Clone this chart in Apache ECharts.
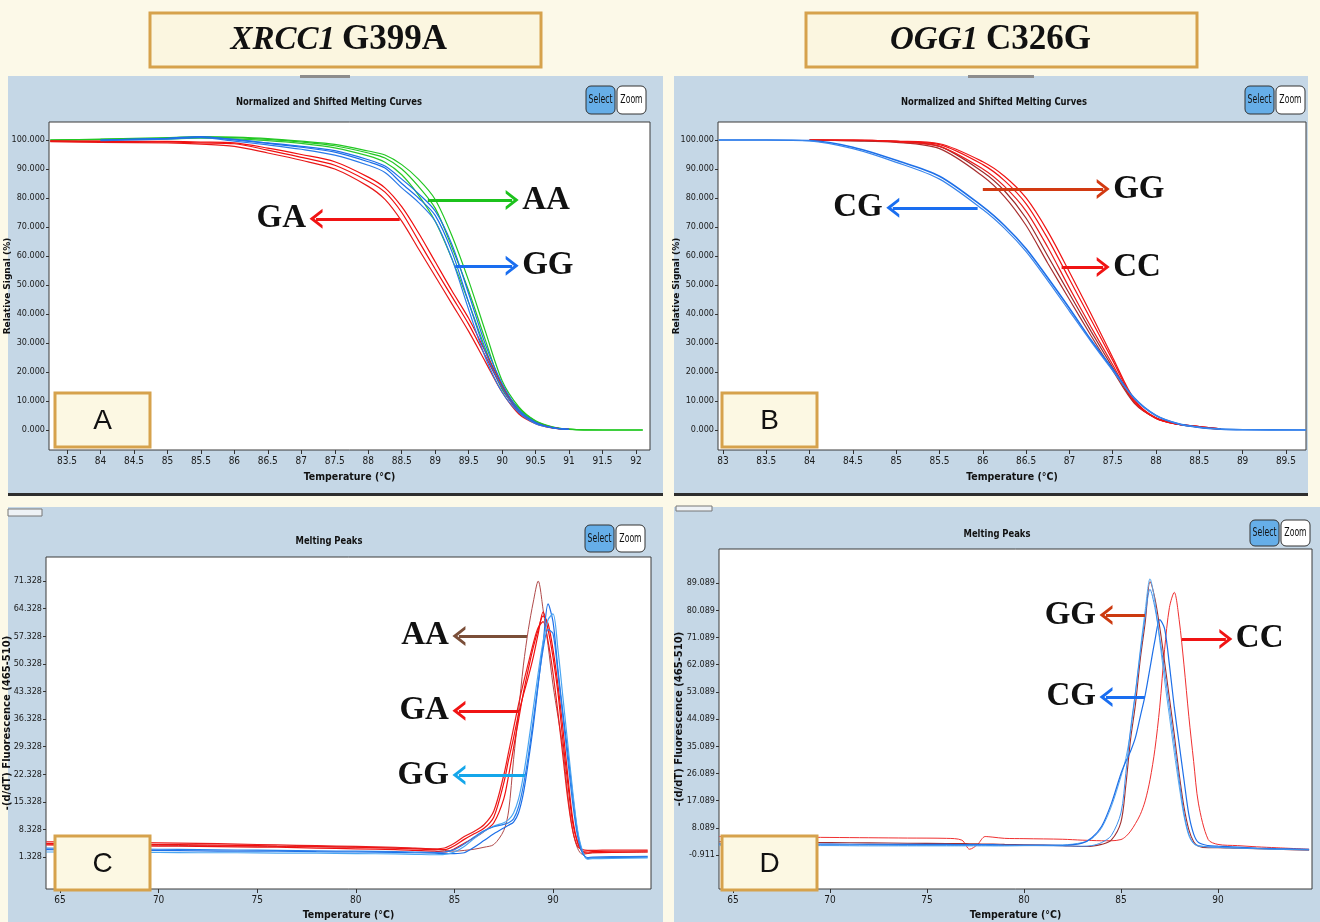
<!DOCTYPE html>
<html>
<head>
<meta charset="utf-8">
<script src="https://cdn.jsdelivr.net/npm/echarts@6/dist/echarts.min.js"></script>
<style>
html, body { margin: 0; padding: 0; background: #fcf9e8; }
#main { width: 1320px; height: 922px; }
</style>
</head>
<body>
<div id="main"></div>
<script>
// ---- A: XRCC1 G399A, normalized melting curves ----
var tempA = [83.25, 84, 85, 85.5, 86, 86.5, 87, 87.5, 88, 88.25, 88.5, 88.75, 89, 89.25, 89.5, 89.75, 90, 90.25, 90.5, 90.75, 91, 91.5, 92.1];
var aaA1 = [100, 100.2, 100.6, 101, 100.8, 100.2, 99.3, 98, 95.5, 93.8, 90, 84, 76.5, 63, 48, 31, 15, 7.5, 3, 1, 0.3, 0, 0];
var aaA2 = [99.9, 100.1, 100.4, 100.6, 100.4, 99.8, 98.8, 97.3, 94.5, 92.3, 88, 81, 72, 59, 44, 28, 14, 7, 2.8, 0.9, 0.2, 0, 0];
var aaA3 = [100, 100.3, 100.8, 101.2, 101, 100.5, 99.6, 98.5, 96.2, 94.8, 91.5, 86.5, 79.5, 67, 51.5, 34, 17, 8, 3.2, 1.1, 0.3, 0, 0];
var ggA1 = [null, 100, 100.6, 101.2, 100, 98.8, 97.5, 95.8, 92.5, 90.3, 85, 80, 74, 61.5, 44, 27, 14.5, 6.5, 2.5, 0.8, 0.2, null, null];
var ggA2 = [null, 99.8, 100.3, 100.8, 99.6, 98.3, 96.8, 94.8, 91.3, 88.8, 83.5, 78.5, 72, 59, 41.5, 25, 13, 6, 2.2, 0.7, 0.2, null, null];
var ggA3 = [null, 100, 100.5, 101, 100.2, 99, 97.8, 96.3, 93.2, 91, 86.5, 81.5, 75.5, 64, 47, 29.5, 16, 7, 2.7, 0.8, 0.2, null, null];
var gaA1 = [99.6, 99.5, 99.3, 99, 98.7, 96.5, 94, 91.3, 85.8, 82, 75, 65.3, 55.5, 46, 36.5, 25.5, 14.5, 6, 2.5, 0.8, 0.2, null, null];
var gaA2 = [99.4, 99.2, 99, 98.6, 97.8, 95.5, 93, 90, 84, 79.5, 72, 62.5, 53, 43.5, 34, 23.5, 13, 5.5, 2.2, 0.7, 0.2, null, null];
var gaA3 = [99.7, 99.6, 99.5, 99.3, 99, 97.2, 95, 92.5, 87.2, 83.5, 77, 68, 58, 48, 38.5, 27, 15.5, 6.5, 2.6, 0.8, 0.2, null, null];

// ---- B: OGG1 C326G, normalized melting curves ----
var tempB = [82.95, 83.5, 84, 84.5, 85, 85.5, 86, 86.25, 86.5, 86.75, 87, 87.25, 87.5, 87.75, 88, 88.25, 88.5, 88.75, 89, 89.73];
var cgB1 = [100, 100, 99.8, 97.5, 93, 87.5, 77, 70.5, 62.5, 52.5, 42, 31, 21, 11, 5, 2.2, 0.9, 0.3, 0.1, 0];
var cgB2 = [100, 100, 99.7, 97, 92.3, 86.5, 76, 69.5, 61.5, 51.5, 41, 30.5, 20.5, 10.8, 5, 2.2, 0.9, 0.3, 0.1, 0];
var ccB1 = [null, null, 100, 100, 99.5, 98.4, 91.5, 86, 78, 66, 52, 38, 24, 10, 4, 2, 1.2, 0.4, null, null];
var ccB2 = [null, null, 100, 99.9, 99.3, 97.8, 90, 84, 75.5, 63, 49, 35.5, 22.5, 9.5, 4, 2, 1.1, 0.4, null, null];
var ccB3 = [null, null, 100, 100, 99.6, 98.7, 92.5, 87.5, 80, 68.5, 54.5, 40, 25, 10.5, 4.1, 2, 1.2, 0.4, null, null];
var ggB1 = [null, null, 100, 99.8, 99.5, 97.8, 89, 82.5, 73, 60, 47, 34, 21.5, 9.5, 4.2, 2, 1, 0.3, null, null];
var ggB2 = [null, null, 100, 99.7, 99.2, 97, 87.5, 80.5, 70.5, 57.5, 45, 32.5, 20.5, 9.2, 4.1, 2, 1, 0.3, null, null];

// ---- C: XRCC1 melting peaks ----
var tempC = [64.3, 66, 68, 70, 72, 74, 76, 78, 80, 82, 83, 84, 84.5, 85, 85.5, 86, 86.5, 87, 87.5, 87.75, 88, 88.25, 88.5, 88.75, 89, 89.25, 89.5, 89.75, 90, 90.25, 90.5, 90.75, 91, 91.25, 91.5, 91.75, 92, 93, 94.8];
var aaC = [4.6, 4.5, 4.4, 4.3, 4.2, 4.1, 4.0, 3.9, 3.8, 3.6, 3.5, 3.3, 3.0, 2.8, 3.0, 3.3, 3.8, 4.5, 8, 13, 26, 38, 50, 59, 66, 71.3, 64, 55, 45, 37, 29, 17, 8, 3.5, 2, 2.2, 2.4, 2.5, 2.6];
var gaC1 = [4.8, 4.7, 4.6, 4.5, 4.4, 4.3, 4.1, 4.0, 3.8, 3.6, 3.4, 3.2, 3.2, 4.2, 5.8, 7.2, 8.6, 11.5, 20, 26, 31.5, 37.5, 42.5, 47, 52, 58, 63.5, 59, 52, 43, 31, 20, 10, 5, 2.8, 2.6, 2.7, 2.8, 2.9];
var gaC2 = [5.2, 5.1, 5.0, 4.9, 4.8, 4.6, 4.4, 4.2, 4.0, 3.8, 3.6, 3.4, 3.6, 4.8, 6.5, 7.8, 9.5, 13, 22, 28, 34, 40, 45.5, 50.5, 55.5, 59.5, 61, 56, 48, 38, 27, 16, 8, 4, 3.2, 3.0, 3.0, 3.1, 3.1];
var gaC3 = [4.4, 4.3, 4.2, 4.1, 4.0, 3.9, 3.8, 3.6, 3.4, 3.2, 3.0, 2.8, 2.6, 3.4, 4.8, 6.2, 7.8, 10, 16, 22, 29, 36, 43, 49, 54.5, 59, 62.5, 60.5, 54, 45, 34, 22, 11, 5, 2.6, 2.3, 2.4, 2.5, 2.6];
var ggC1 = [3.2, 3.1, 3.0, 3.0, 2.9, 2.8, 2.8, 2.7, 2.6, 2.5, 2.4, 2.3, 2.2, 2.2, 2.4, 3.8, 5.5, 7.2, 8.7, 9.4, 10.2, 12.5, 17.5, 25.5, 34.5, 45, 55.5, 65.5, 61, 49, 38, 28, 17, 7.5, 2.5, 1.0, 1.1, 1.2, 1.3];
var ggC2 = [2.6, 2.6, 2.5, 2.5, 2.4, 2.4, 2.3, 2.3, 2.2, 2.1, 2.0, 1.9, 2.0, 2.6, 4.0, 6.0, 7.8, 9.2, 10.0, 10.8, 12.5, 16, 22, 30, 39, 48, 56, 61.5, 63, 54, 42, 30, 18, 8, 2.8, 0.8, 0.9, 1.0, 1.1];
var ggC3 = [3.6, 3.5, 3.4, 3.3, 3.2, 3.1, 3.0, 2.9, 2.8, 2.7, 2.6, 2.5, 2.6, 3.2, 4.6, 6.4, 8.0, 9.0, 9.6, 10.0, 11, 14, 19.5, 27, 36, 45.5, 54, 59, 58, 48, 37, 26, 15, 6.5, 2.2, 1.2, 1.3, 1.4, 1.5];

// ---- D: OGG1 melting peaks ----
var tempD = [64.3, 66, 68, 70, 72, 74, 76, 76.8, 77.2, 77.6, 78, 78.4, 79, 80, 82, 83, 83.5, 84, 84.5, 85, 85.25, 85.5, 85.75, 86, 86.25, 86.5, 86.75, 87, 87.25, 87.5, 87.75, 88, 88.25, 88.5, 88.75, 89, 89.5, 90, 91, 92, 93, 94.7];
var ccD = [5.2, 5.1, 5.0, 4.9, 4.8, 4.7, 4.6, 4.0, 1.0, 2.5, 5.2, 5.0, 4.6, 4.5, 4.3, 4.0, 3.9, 3.8, 3.8, 4.2, 5.2, 7, 9.5, 12.5, 17, 24, 34, 48, 67, 81, 86, 77, 62, 45, 30, 16, 4.2, 2.6, 2.2, 1.8, 1.5, 1.0];
var ggD = [3.5, 3.4, 3.3, 3.2, 3.1, 3.0, 2.9, 2.9, 2.8, 2.8, 2.7, 2.7, 2.6, 2.5, 2.2, 1.9, 2.0, 2.6, 4, 10, 22, 37.5, 49, 64, 76, 89.5, 84, 74.5, 63, 51, 39, 26, 15, 7.5, 3.5, 2.0, 1.5, 1.5, 1.3, 1.2, 1.0, 0.7];
var cgD1 = [2.2, 2.2, 2.2, 2.2, 2.1, 2.1, 2.1, 2.1, 2.1, 2.1, 2.1, 2.1, 2.1, 2.2, 2.4, 3.2, 4.5, 8, 15, 25, 31, 40, 53, 67, 80, 90.5, 83, 70, 57, 45, 33, 22, 12, 5.5, 2.8, 2.0, 1.8, 1.6, 1.4, 1.2, 1.0, 0.8];
var cgD2 = [2.8, 2.8, 2.7, 2.7, 2.6, 2.6, 2.6, 2.5, 2.5, 2.5, 2.5, 2.5, 2.4, 2.4, 2.3, 3.0, 4.8, 8.5, 16, 26, 30, 33.5, 38, 45, 52, 61, 70, 77, 74, 62, 48, 36, 24, 12.5, 6, 3.2, 2.2, 2.0, 1.7, 1.4, 1.2, 1.0];
var cgD3 = [2.5, 2.5, 2.4, 2.4, 2.4, 2.3, 2.3, 2.3, 2.3, 2.3, 2.3, 2.2, 2.2, 2.2, 2.1, 2.0, 2.2, 3.2, 5.5, 13, 26, 41, 53, 66, 78, 87, 81, 71, 60, 48, 36, 24, 13, 6, 3, 2.2, 1.8, 1.6, 1.4, 1.2, 1.0, 0.8];

// tick labels
var xTicksA = [83.5, 84, 84.5, 85, 85.5, 86, 86.5, 87, 87.5, 88, 88.5, 89, 89.5, 90, 90.5, 91, 91.5, 92];
var xTicksB = [83, 83.5, 84, 84.5, 85, 85.5, 86, 86.5, 87, 87.5, 88, 88.5, 89, 89.5];
var xTicksCD = [65, 70, 75, 80, 85, 90];
var yTicksAB = [0, 10, 20, 30, 40, 50, 60, 70, 80, 90, 100];
var yTicksC = [1.328, 8.328, 15.328, 22.328, 29.328, 36.328, 43.328, 50.328, 57.328, 64.328, 71.328];
var yTicksD = [-0.911, 8.089, 17.089, 26.089, 35.089, 44.089, 53.089, 62.089, 71.089, 80.089, 89.089];

// genotype arrows: [from temp, to temp, level, label, colour]
var arrowsA = [[88.89, 90.15, 79.3, 'AA', '#1cc21c'], [88.47, 87.22, 72.8, 'GA', '#f01414'], [89.3, 90.15, 56.6, 'GG', '#1a6ef0']];
var arrowsB = [[86.0, 87.39, 83.1, 'GG', '#d23a12'], [85.94, 84.96, 76.6, 'CG', '#1a6ef0'], [86.91, 87.39, 56.2, 'CC', '#f01414']];
var arrowsC = [[88.68, 85.23, 57.4, 'AA', '#7a4e38'], [88.28, 85.23, 38.4, 'GA', '#f01414'], [88.58, 85.23, 22.1, 'GG', '#14a6ea']];
var arrowsD = [[86.24, 84.23, 78.5, 'GG', '#cc3a10'], [86.24, 84.23, 51.4, 'CG', '#1a6ef0'], [88.14, 90.41, 70.6, 'CC', '#f01414']];

var NARROW = "'Liberation Sans Narrow','Arial Narrow','DejaVu Sans Condensed',sans-serif";
var SERIF = "'Liberation Serif','Times New Roman',serif";
var CHEVRON = 'path://M10,0 L20,12 L16.5,12 L10,4.5 L3.5,12 L0,12 Z';
var TAN = '#d6a24c';

var series = [];
function addCurve(p, temps, vals, color, w) {
  var pts = [];
  for (var i = 0; i < temps.length; i++) {
    if (vals[i] !== null) pts.push([temps[i], vals[i]]);
  }
  var s = {
    type: 'line', xAxisIndex: p, yAxisIndex: p, data: pts, symbol: 'none',
    smooth: 0.3, silent: true, clip: true,
    lineStyle: { color: color, width: w || 1.2 }, itemStyle: { color: color }
  };
  series.push(s);
  return s;
}
function addArrows(s, arrows) {
  s.markLine = {
    silent: true, animation: false, symbol: ['none', 'none'],
    data: arrows.map(function (a) {
      return [
        { coord: [a[0], a[2]], name: a[3],
          lineStyle: { color: a[4], width: 3, type: 'solid' },
          label: { show: true, position: 'end', formatter: '{b}', distance: 10,
                   color: '#111', fontSize: 33, fontWeight: 'bold', fontFamily: SERIF } },
        { coord: [a[1], a[2]], symbol: CHEVRON, symbolSize: [20, 13] }
      ];
    })
  };
}

var sA = addCurve(0, tempA, aaA1, '#22c722');
addCurve(0, tempA, aaA2, '#2bc92b'); addCurve(0, tempA, aaA3, '#22c722');
addCurve(0, tempA, gaA1, '#f01010'); addCurve(0, tempA, gaA2, '#e81818'); addCurve(0, tempA, gaA3, '#f01010');
addCurve(0, tempA, ggA1, '#1d6fe8'); addCurve(0, tempA, ggA2, '#2a7ae8'); addCurve(0, tempA, ggA3, '#1d6fe8');
addArrows(sA, arrowsA);

var sB = addCurve(1, tempB, ggB1, '#9c2a2a');
addCurve(1, tempB, ggB2, '#a83030');
addCurve(1, tempB, ccB1, '#f01414'); addCurve(1, tempB, ccB2, '#e81c1c'); addCurve(1, tempB, ccB3, '#f01414');
addCurve(1, tempB, cgB1, '#1d6fe8', 1.6); addCurve(1, tempB, cgB2, '#3a86ec');
addArrows(sB, arrowsB);

var sC = addCurve(2, tempC, aaC, '#b04a4a', 1);
addCurve(2, tempC, gaC1, '#f01010'); addCurve(2, tempC, gaC2, '#ea1c1c'); addCurve(2, tempC, gaC3, '#f01010');
addCurve(2, tempC, ggC1, '#1d6fe8'); addCurve(2, tempC, ggC2, '#4aa6f2'); addCurve(2, tempC, ggC3, '#2a7ee8');
addArrows(sC, arrowsC);

var sD = addCurve(3, tempD, ccD, '#f03030', 1);
addCurve(3, tempD, ggD, '#a03030', 1.1);
addCurve(3, tempD, cgD1, '#5aaaf0', 1); addCurve(3, tempD, cgD2, '#1d6fe8', 1.2); addCurve(3, tempD, cgD3, '#3c90ee', 1);
addArrows(sD, arrowsD);

function fmtX(v) { return (Math.round(v * 10) / 10).toString(); }
function fmtY(v) { return v.toFixed(3); }

function xAxis(p, min, max, ticks, gap) {
  return {
    type: 'value', gridIndex: p, min: min, max: max, position: 'bottom',
    name: 'Temperature (°C)', nameLocation: 'middle', nameGap: gap, nameMoveOverlap: false,
    nameTextStyle: { fontFamily: NARROW, fontSize: 10.5, fontWeight: 'bold', color: '#111' },
    axisLine: { show: false, onZero: false },
    axisTick: { show: true, customValues: ticks, length: 4, lineStyle: { color: '#333' } },
    axisLabel: { customValues: ticks, formatter: fmtX, fontFamily: NARROW, fontSize: 10, color: '#1a1a1a', margin: 6 },
    splitLine: { show: false }
  };
}
function yAxis(p, min, max, ticks, name, gap, size) {
  return {
    type: 'value', gridIndex: p, min: min, max: max, position: 'left',
    name: name, nameLocation: 'middle', nameGap: gap, nameRotate: 90, nameMoveOverlap: false,
    nameTextStyle: { fontFamily: "'DejaVu Sans',sans-serif", fontSize: size, fontWeight: 'bold', color: '#111' },
    axisLine: { show: false, onZero: false },
    axisTick: { show: true, customValues: ticks, length: 3, lineStyle: { color: '#333' } },
    axisLabel: { customValues: ticks, formatter: fmtY, fontFamily: NARROW, fontSize: 9, color: '#1a1a1a', margin: 4 },
    splitLine: { show: false }
  };
}

// page decoration
var graphics = [];
function box(x, y, w, h, fill, stroke, lw, z, r) {
  graphics.push({ type: 'rect', silent: true, z: z, shape: { x: x, y: y, width: w, height: h, r: r || 0 },
    style: { fill: fill, stroke: stroke || null, lineWidth: lw || 0 } });
}
function label(x, y, str, font, color, align, z, sx) {
  graphics.push({ type: 'text', silent: true, z: z || 50, x: x, y: y, scaleX: sx || 1,
    style: { text: str, font: font, fill: color, align: align || 'center', verticalAlign: 'middle' } });
}
// panel backgrounds
box(8, 76, 655, 419, '#c5d7e6', null, 0, -10);
box(674, 76, 634, 419, '#c5d7e6', null, 0, -10);
box(8, 507, 655, 415, '#c5d7e6', null, 0, -10);
box(674, 507, 646, 415, '#c5d7e6', null, 0, -10);
box(8, 493, 655, 3, '#2e2e2e', null, 0, -9);
box(674, 493, 634, 3, '#2e2e2e', null, 0, -9);
box(300, 75, 50, 3, '#8d8d8d', null, 0, -9);
box(968, 75, 66, 3, '#8d8d8d', null, 0, -9);
box(8, 509, 34, 7, '#eef2f6', '#777', 1, -9);
box(676, 506, 36, 5, '#eef2f6', '#777', 1, -9);

// gene titles
box(150, 13, 391, 54, '#fbf6e0', TAN, 3, 20);
box(806, 13, 391, 54, '#fbf6e0', TAN, 3, 20);
label(335, 40, 'XRCC1', 'italic bold 33px ' + SERIF, '#111', 'right', 30);
label(342, 40, 'G399A', 'bold 35px ' + SERIF, '#111', 'left', 30);
label(978, 40, 'OGG1', 'italic bold 33px ' + SERIF, '#111', 'right', 30);
label(986, 40, 'C326G', 'bold 35px ' + SERIF, '#111', 'left', 30);

// panel titles
label(329, 102, 'Normalized and Shifted Melting Curves', 'bold 11px ' + NARROW, '#111', 'center', 50, 0.85);
label(994, 102, 'Normalized and Shifted Melting Curves', 'bold 11px ' + NARROW, '#111', 'center', 50, 0.85);
label(329, 541, 'Melting Peaks', 'bold 11px ' + NARROW, '#111', 'center', 50, 0.85);
label(997, 534, 'Melting Peaks', 'bold 11px ' + NARROW, '#111', 'center', 50, 0.85);

// Select / Zoom buttons
function buttons(x, y, h) {
  box(x, y, 29, h, '#66aee8', '#333', 1, 20, 5);
  box(x + 31, y, 29, h, '#ffffff', '#333', 1, 20, 5);
  label(x + 14.5, y + h / 2, 'Select', '13px ' + NARROW, '#111', 'center', 30, 0.66);
  label(x + 45.5, y + h / 2, 'Zoom', '13px ' + NARROW, '#111', 'center', 30, 0.66);
}
buttons(586, 86, 28);
buttons(1245, 86, 28);
buttons(585, 525, 27);
buttons(1250, 520, 26);

// panel letters
function letter(x, y, ch) {
  box(x, y, 95, 54, '#fcf8e3', TAN, 3, 100);
  label(x + 47.5, y + 28, ch, '28px ' + "'Liberation Sans',Arial,sans-serif", '#111', 'center', 110);
}
letter(55, 393, 'A');
letter(722, 393, 'B');
letter(55, 836, 'C');
letter(722, 836, 'D');

var gridStyle = { show: true, backgroundColor: '#ffffff', borderColor: '#3a3a3a', borderWidth: 1,
                  containLabel: false, outerBoundsMode: 'none' };
var option = {
  animation: false,
  backgroundColor: '#fcf9e8',
  grid: [
    Object.assign({ left: 49, top: 122, width: 601, height: 328 }, gridStyle),
    Object.assign({ left: 718, top: 122, width: 588, height: 328 }, gridStyle),
    Object.assign({ left: 46, top: 557, width: 605, height: 332 }, gridStyle),
    Object.assign({ left: 719, top: 549, width: 593, height: 340 }, gridStyle)
  ],
  xAxis: [
    xAxis(0, 83.231, 92.209, xTicksA, 22),
    xAxis(1, 82.942, 89.732, xTicksB, 22),
    xAxis(2, 64.29, 94.97, xTicksCD, 21),
    xAxis(3, 64.28, 94.85, xTicksCD, 21)
  ],
  yAxis: [
    yAxis(0, -6.9, 106.2, yTicksAB, 'Relative Signal (%)', 37, 9),
    yAxis(1, -6.9, 106.2, yTicksAB, 'Relative Signal (%)', 37, 9),
    yAxis(2, -6.787, 77.41, yTicksC, '-(d/dT) Fluorescence (465-510)', 34, 10),
    yAxis(3, -12.16, 100.35, yTicksD, '-(d/dT) Fluorescence (465-510)', 35, 10)
  ],
  graphic: graphics,
  series: series
};

var chart = echarts.init(document.getElementById('main'));
chart.setOption(option);
</script>
</body>
</html>
